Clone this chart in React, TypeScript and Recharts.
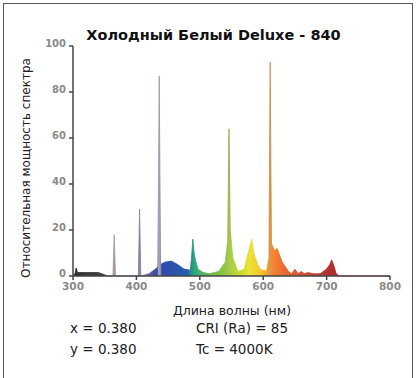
import { AreaChart, Area, XAxis, YAxis } from "recharts";

const wavelengths = [
  300, 303, 305, 307, 310, 320, 330, 340, 350, 355, 363, 365, 367, 375, 390, 403, 405, 407,
  420, 430, 434, 436, 438, 445, 455, 465, 475, 485, 487, 489, 491, 493, 497, 505, 515, 530,
  540, 544, 546, 548, 552, 560, 570, 578, 582, 585, 590, 595, 605, 609, 611, 613, 618, 622,
  626, 630, 635, 640, 645, 650, 655, 660, 665, 670, 680, 690, 700, 705, 708, 712, 715, 720, 800,
];
const power = [
  0, 1, 3.5, 1.5, 1.5, 1.5, 1.5, 1.5, 0.5, 0, 0, 18, 0, 0, 0, 0, 29, 0,
  1, 3, 4, 87, 5, 6, 6.5, 5, 3, 2.5, 8, 16, 10, 7, 3, 1.5, 1, 2,
  6, 15, 64, 20, 8, 2, 3, 12, 16, 10, 6, 3, 2, 8, 93, 14, 11, 12,
  9, 6, 4, 2, 1, 3, 1, 2, 1, 1.5, 1, 1, 3, 5, 7, 4, 1, 0, 0,
];
const xTicks = [300, 400, 500, 600, 700, 800];
const yTicks = [0, 20, 40, 60, 80, 100];

// spectrum colour stops (wavelength, fill colour, line colour)
const stops: [number, string, string][] = [
  [300, "#222222", "#222222"],
  [350, "#3a3a3a", "#3a3a3a"],
  [360, "#9a9098", "#a3969f"],
  [372, "#9a9098", "#a3969f"],
  [400, "#8a7c9c", "#8a7c9c"],
  [410, "#8a7c9c", "#8a7c9c"],
  [428, "#3346a0", "#3346a0"],
  [433, "#2e44a2", "#2e44a2"],
  [434.5, "#a398b0", "#9a8fa8"],
  [437.5, "#a398b0", "#9a8fa8"],
  [440, "#2141a8", "#2141a8"],
  [480, "#1c54a8", "#1c54a8"],
  [488, "#18957f", "#18957f"],
  [497, "#33aa6a", "#33aa6a"],
  [515, "#5cb640", "#5cb640"],
  [543, "#8ec63a", "#8ec63a"],
  [544.5, "#a6c24a", "#9aa04a"],
  [547.5, "#a6c24a", "#9aa04a"],
  [550, "#a2d030", "#a2d030"],
  [565, "#c8d828", "#c8d828"],
  [578, "#e8e22a", "#e8e22a"],
  [596, "#f4c422", "#f4c422"],
  [608, "#f39a22", "#f39a22"],
  [609.5, "#d89040", "#c88a40"],
  [612.5, "#d89040", "#c88a40"],
  [615, "#f47e24", "#f47e24"],
  [640, "#e25826", "#e25826"],
  [665, "#c8482e", "#c8482e"],
  [700, "#b02626", "#b02626"],
  [720, "#a02020", "#a02020"],
  [800, "#a02020", "#a02020"],
];

const rows = wavelengths.map((w, i) => ({ w, p: power[i] }));
const off = (w: number) => `${((w - 300) / 500) * 100}%`;

const txt = { fontFamily: "DejaVu Sans, Verdana, sans-serif", color: "#222", position: "absolute" as const, whiteSpace: "nowrap" as const };

export default function App() {
  return (
    <div style={{ position: "absolute", left: 0, top: 0, width: 416, height: 378, background: "#fff", overflow: "hidden" }}>
      <div style={{ position: "absolute", left: 3, top: 3, width: 408, height: 400, border: "1.5px solid #555" }} />
      <div style={{ ...txt, left: 0, width: 427, top: 27, textAlign: "center", fontSize: 14.5, fontWeight: "bold", color: "#111" }}>
        Холодный Белый Deluxe - 840
      </div>
      <AreaChart width={416} height={378} data={rows} margin={{ top: 46, right: 26, bottom: 82, left: 33 }} style={{ position: "absolute", left: 0, top: 0 }}>
        <defs>
          <linearGradient id="specFill" x1="0" y1="0" x2="1" y2="0">
            {stops.map(([w, c]) => <stop key={w} offset={off(w)} stopColor={c} />)}
          </linearGradient>
          <linearGradient id="specLine" x1="0" y1="0" x2="1" y2="0">
            {stops.map(([w, , c]) => <stop key={w} offset={off(w)} stopColor={c} />)}
          </linearGradient>
        </defs>
        <XAxis dataKey="w" type="number" domain={[300, 800]} ticks={xTicks} height={20}
          stroke="#444" strokeWidth={1.5} tickSize={4} tickMargin={3}
          tick={{ fill: "#8a8a8a", fontSize: 10.5, fontWeight: "bold", fontFamily: "DejaVu Sans" }} />
        <YAxis type="number" domain={[0, 100]} ticks={yTicks} width={40}
          stroke="#444" strokeWidth={1.5} tickSize={4} tickMargin={3}
          tick={{ fill: "#8a8a8a", fontSize: 10, fontWeight: "bold", fontFamily: "DejaVu Sans", dy: -3 }} />
        <Area type="linear" dataKey="p" fill="url(#specFill)" fillOpacity={0.95} stroke="url(#specLine)" strokeWidth={0.8} isAnimationActive={false} dot={false} activeDot={false} />
      </AreaChart>
      <div style={{ ...txt, left: 26, top: 168, fontSize: 12, transform: "translate(-50%, -50%) rotate(-90deg)" }}>
        Относительная мощность спектра
      </div>
      <div style={{ ...txt, left: 0, width: 464, top: 303, textAlign: "center", fontSize: 12.5 }}>
        Длина волны (нм)
      </div>
      <div style={{ ...txt, left: 70, top: 318, fontSize: 13.5, lineHeight: "21px" }}>
        x = 0.380<br />y = 0.380
      </div>
      <div style={{ ...txt, left: 196, top: 318, fontSize: 13.5, lineHeight: "21px" }}>
        CRI (Ra) = 85<br />Tc = 4000K
      </div>
    </div>
  );
}
